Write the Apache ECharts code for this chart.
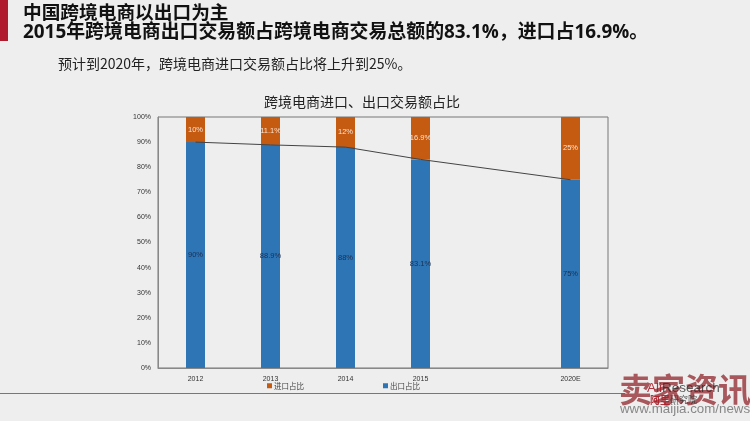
<!DOCTYPE html>
<html><head><meta charset="utf-8">
<script src="https://cdn.jsdelivr.net/npm/echarts@6/dist/echarts.min.js"></script>
<style>html,body{margin:0;padding:0;background:#eeeeee}#c{width:750px;height:421px}</style>
</head><body><div id="c"></div>
<script>
const categories = ['2012','2013','2014','2015','','2020E'];
const importShare = [10,11.1,12,16.9,null,25];
const exportShare = [90,88.9,88,83.1,null,75];
const yTicks = [0,10,20,30,40,50,60,70,80,90,100];
const headingLine1 = '中国跨境电商以出口为主';
const headingLine2 = '2015年跨境电商出口交易额占跨境电商交易总额的83.1%，进口占16.9%。';
const subHeading = '预计到2020年，跨境电商进口交易额占比将上升到25%。';
const chartTitle = '跨境电商进口、出口交易额占比';
const cjk = '"Noto Sans CJK SC","Noto Sans",sans-serif';
const headFont = '"Open Sans","Noto Sans CJK SC",sans-serif';
const latin = '"Liberation Sans",sans-serif';
const chart = echarts.init(document.getElementById('c'));
const txt = (x,y,text,style)=>({type:'text',x,y,silent:true,style:Object.assign({text,fontFamily:cjk,textVerticalAlign:'middle'},style)});
chart.setOption({
  animation:false,
  backgroundColor:'#eeeeee',
  textStyle:{fontFamily:cjk},
  grid:{left:158,right:142,top:117,bottom:53,show:true,borderColor:'#777777',borderWidth:1,backgroundColor:'transparent'},
  legend:{left:267,top:382,itemWidth:5,itemHeight:5,itemGap:79,padding:0,icon:'rect',
    data:['进口占比','出口占比'],textStyle:{fontSize:7.5,color:'#444',padding:[0,0,0,-3]}},
  xAxis:{type:'category',data:categories,axisTick:{show:false},
    axisLine:{lineStyle:{color:'#888888'}},
    axisLabel:{fontSize:7,color:'#333',margin:8,interval:0,fontFamily:latin}},
  yAxis:{type:'value',min:yTicks[0],max:yTicks[yTicks.length-1],interval:10,
    splitLine:{show:false},axisTick:{show:false},
    axisLine:{show:true,lineStyle:{color:'#888888'}},
    axisLabel:{fontSize:7,color:'#333',margin:7,formatter:'{value}%',fontFamily:latin}},
  series:[
    {name:'出口占比',type:'bar',stack:'t',data:exportShare,barWidth:19,itemStyle:{color:'#2e75b6'},
     label:{show:true,position:'inside',fontSize:7.5,color:'#1a2f4f',fontFamily:latin,formatter:p=>p.value+'%'}},
    {name:'进口占比',type:'bar',stack:'t',data:importShare,barWidth:19,itemStyle:{color:'#c55a11'},
     label:{show:true,position:'inside',fontSize:7.5,color:'#fbe3cf',fontFamily:latin,formatter:p=>p.value+'%'}},
    {name:'占比线',type:'line',data:exportShare,connectNulls:true,symbol:'none',z:5,
     lineStyle:{color:'#444444',width:1}}
  ],
  graphic:[
    {type:'rect',shape:{x:0,y:0,width:8,height:41},style:{fill:'#b01c2e'},silent:true},
    {type:'rect',shape:{x:0,y:393,width:625,height:1},style:{fill:'#777777'},silent:true},
    txt(23,14,headingLine1,{fontSize:18.7,fontWeight:'bold',fill:'#111',fontFamily:headFont}),
    txt(23,33,headingLine2,{fontSize:18.9,fontWeight:'bold',fill:'#111',fontFamily:headFont}),
    txt(58,64,subHeading,{fontSize:14,fill:'#222'}),
    txt(264,102,chartTitle,{fontSize:14,fill:'#222'}),
    txt(619,389,'卖家资讯',{fontSize:33,fontWeight:'bold',fill:'rgba(150,50,55,0.8)'}),
    txt(647,388,'Ali',{fontSize:13.5,fill:'rgba(170,30,40,0.9)',fontFamily:latin}),
    txt(662,388,'Research',{fontSize:13.5,fill:'rgba(40,40,40,0.75)',fontFamily:latin}),
    txt(650,400,'阿里',{fontSize:10,fontWeight:'bold',fill:'rgba(170,30,40,0.9)'}),
    txt(670,400,'研究院',{fontSize:9,fill:'rgba(50,50,50,0.8)'}),
    txt(620,409,'www.maijia.com/news',{fontSize:13.3,fill:'#888888',fontFamily:latin})
  ]
});
</script></body></html>
